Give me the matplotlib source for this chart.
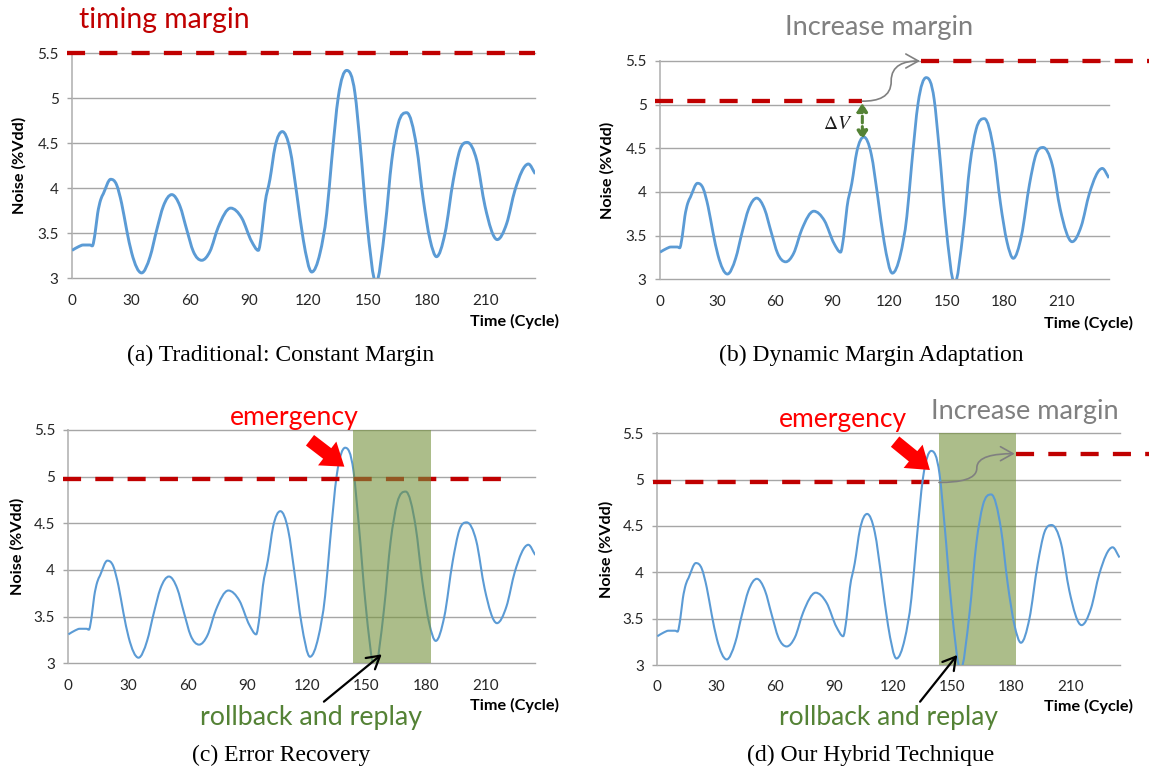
import numpy as np
import matplotlib
matplotlib.use("Agg")
import matplotlib.pyplot as plt
from matplotlib.path import Path
from matplotlib.patches import PathPatch, FancyArrowPatch

plt.rcParams["font.family"] = ["Lato", "DejaVu Sans"]
plt.rcParams["mathtext.fontset"] = "stix"

# ---- supply-noise trace (cycle, %Vdd) ----
cycles = [0, 3.2, 5.7, 9.1, 10.3, 11.7, 13.0, 14.5, 15.9, 19.6,
          22.6, 25.2, 27.7, 30.3, 35.3, 39.6, 43.0, 46.3, 50.6, 54.8,
          58.2, 61.5, 65.8, 70.0, 74.2, 80.5, 86.1, 91.1, 94.5, 96.2,
          97.9, 100.4, 103.0, 106.7, 110.6, 114.0, 117.3, 121.6, 125.8, 129.2,
          131.7, 135.1, 139.3, 143.5, 146.1, 149.5, 154.2, 158.8, 162.2, 165.5,
          169.8, 174.8, 178.2, 181.6, 184.9, 189.2, 193.4, 196.8, 200.5, 205.3,
          209.5, 215.7, 220.5, 224.7, 231.5, 235.0]
noise = [3.31, 3.35, 3.37, 3.37, 3.36, 3.50, 3.72, 3.87, 3.94, 4.10,
         4.04, 3.83, 3.54, 3.28, 3.06, 3.24, 3.54, 3.80, 3.93, 3.80,
         3.54, 3.30, 3.20, 3.30, 3.57, 3.78, 3.67, 3.41, 3.31, 3.50,
         3.83, 4.10, 4.46, 4.63, 4.43, 3.94, 3.43, 3.07, 3.28, 3.72,
         4.31, 5.02, 5.31, 5.06, 4.50, 3.65, 2.95, 3.57, 4.31, 4.72,
         4.84, 4.46, 3.87, 3.43, 3.24, 3.50, 4.09, 4.43, 4.51, 4.31,
         3.80, 3.43, 3.61, 3.98, 4.27, 4.16]

x_ticks = [0, 30, 60, 90, 120, 150, 180, 210]
y_ticks = [3, 3.5, 4, 4.5, 5, 5.5]
y_tick_labels = ["3", "3.5", "4", "4.5", "5", "5.5"]

# ---- margin levels (%Vdd) and switching cycles ----
margin_constant = 5.5
margin_dyn_low, margin_dyn_high = 5.04, 5.5
dyn_switch_start, dyn_switch_end = 105.9, 136.6
margin_recovery = 4.97
recovery_window = (143.4, 182.3)
recovery_margin_end = 221.0
margin_hyb_low, margin_hyb_high = 4.97, 5.28
hybrid_window = (143.2, 182.2)
dv_cycle, dv_top, dv_bottom = 105.9, 5.02, 4.60

W, H = 1149, 771
fig = plt.figure(figsize=(W / 100, H / 100), dpi=100)

BLUE = "#5B9BD5"
DARK_RED = "#C00000"
RED = "#FF0000"
GREY = "#808080"
GREEN_TXT = "#548235"
SHADE = "#76923C"
TICK_COLOR = "#262626"


def fpx(x, y):
    """Figure-pixel position (from top-left) -> figure fraction."""
    return x / W, 1 - y / H


def smooth_path(x, y):
    """Piecewise cubic Hermite curve through the samples, as Bezier segments."""
    x = np.asarray(x, float)
    y = np.asarray(y, float)
    n = len(x)
    h = np.diff(x)
    d = np.diff(y) / h
    m = np.zeros(n)
    m[0], m[-1] = d[0], d[-1]
    for i in range(1, n - 1):
        if d[i - 1] * d[i] <= 0:
            m[i] = 0.0
        else:
            m[i] = (h[i - 1] * d[i] + h[i] * d[i - 1]) / (h[i - 1] + h[i])
    verts = [(x[0], y[0])]
    codes = [Path.MOVETO]
    for i in range(n - 1):
        verts += [(x[i] + h[i] / 3, y[i] + m[i] * h[i] / 3),
                  (x[i + 1] - h[i] / 3, y[i + 1] - m[i + 1] * h[i] / 3),
                  (x[i + 1], y[i + 1])]
        codes += [Path.CURVE4] * 3
    return Path(verts, codes)


def s_curve(x0, y0, x1, y1):
    xm, ym = (x0 + x1) / 2, (y0 + y1) / 2
    verts = [(x0, y0),
             (x0 + 0.55 * (xm - x0), y0), (xm, y0 + 0.1 * (y1 - y0)), (xm, ym),
             (xm, y1 - 0.1 * (y1 - y0)), (xm + 0.45 * (x1 - xm), y1), (x1, y1)]
    codes = [Path.MOVETO] + [Path.CURVE4] * 6
    return Path(verts, codes)


def make_panel(left, top, right, bottom, wave_lw, wave_z=2):
    ax = fig.add_axes([left / W, 1 - bottom / H, (right - left) / W, (bottom - top) / H])
    ax.set_xlim(0, 235)
    ax.set_ylim(3, 5.5)
    ax.set_xticks(x_ticks)
    ax.set_yticks(y_ticks)
    ax.set_yticklabels(y_tick_labels)
    for s in ["top", "right", "bottom"]:
        ax.spines[s].set_visible(False)
    ax.spines["left"].set_color("#BFBFBF")
    ax.spines["left"].set_linewidth(1.4)
    ax.spines["left"].set_zorder(1)
    for yv in y_ticks:
        ax.axhline(yv, color="#A6A6A6", lw=1.0, zorder=0.5, clip_on=False)
    ax.tick_params(axis="y", length=3.6, width=1.0, color="#A6A6A6", pad=6,
                   labelsize=11, labelcolor=TICK_COLOR)
    ax.tick_params(axis="x", length=0, pad=11, labelsize=11, labelcolor=TICK_COLOR)
    wave = PathPatch(smooth_path(cycles, noise), fill=False, ec=BLUE, lw=wave_lw,
                     zorder=wave_z, joinstyle="round", capstyle="butt")
    ax.add_patch(wave)
    return ax


def margin_line(ax, x0, x1, y):
    ax.plot([x0, x1], [y, y], color=DARK_RED, lw=3.1, dashes=(4.2, 3.3),
            dash_capstyle="butt", clip_on=False, zorder=2.5)


def grey_arrow(ax, x0, y0, x1, y1):
    arr = FancyArrowPatch(path=s_curve(x0, y0, x1, y1),
                          arrowstyle="->,head_length=0.5,head_width=0.28",
                          mutation_scale=18, color=GREY, lw=1.2, zorder=6)
    arr.set_clip_on(False)
    ax.add_patch(arr)


def emergency_arrow(ax, tail, tip):
    ax.annotate("", xy=tip, xytext=tail, annotation_clip=False,
                arrowprops=dict(arrowstyle="simple,head_width=1.8,head_length=1.3,tail_width=0.8",
                                fc=RED, ec="none", shrinkA=0, shrinkB=0,
                                mutation_scale=12), zorder=6)


def replay_arrow(ax, tail, tip):
    ax.annotate("", xy=tip, xytext=tail, annotation_clip=False,
                arrowprops=dict(arrowstyle="->,head_length=0.6,head_width=0.35",
                                color="black", lw=1.6, shrinkA=0, shrinkB=0,
                                mutation_scale=15), zorder=6)


fit = []  # (text, target width in px, rotated)


def label_text(x, y, s, color, width, **kw):
    t = fig.text(*fpx(x, y), s, color=color, fontsize=20, va="baseline", ha="left", **kw)
    fit.append((t, width, False))
    return t


def axis_titles(ylab_xy, xlab_xy):
    t1 = fig.text(*fpx(*ylab_xy), "Noise (%Vdd)", rotation=90, fontsize=11,
                  fontweight="bold", ha="center", va="center", color="black")
    t2 = fig.text(*fpx(*xlab_xy), "Time (Cycle)", fontsize=11, fontweight="bold",
                  ha="right", va="center", color="black")
    fit.append((t1, 98, True))
    fit.append((t2, 89, False))


def caption(x, y, s):
    fig.text(*fpx(x, y), s, family="Liberation Serif", fontsize=17,
             ha="center", va="baseline", color="black")


# ---- (a) constant margin ----
ax_a = make_panel(72, 53.3, 535.3, 278.3, 2.1)
margin_line(ax_a, -2.7, 235, margin_constant)
label_text(79, 28, "timing margin", DARK_RED, 171)
axis_titles((19, 165.8), (559, 321.7))
caption(281, 361, "(a) Traditional: Constant Margin")

# ---- (b) dynamic margin adaptation ----
ax_b = make_panel(660, 61, 1109, 279.3, 2.0)
margin_line(ax_b, -2.7, dyn_switch_start, margin_dyn_low)
margin_line(ax_b, dyn_switch_end, 256, margin_dyn_high)
grey_arrow(ax_b, dyn_switch_start, margin_dyn_low, dyn_switch_end - 0.5, margin_dyn_high)
ax_b.annotate("", xy=(dv_cycle, dv_bottom), xytext=(dv_cycle, dv_top),
              arrowprops=dict(arrowstyle="<|-|>,head_length=0.35,head_width=0.22",
                              color=GREEN_TXT, lw=2.2, ls=(0, (2.2, 1.2)),
                              mutation_scale=14, shrinkA=0, shrinkB=0), zorder=6)
ax_b.text(93.1, 4.78, r"$\Delta V$", fontsize=14, ha="center", va="center", color="#1a1a1a")
label_text(785, 35, "Increase margin", GREY, 189)
axis_titles((607.5, 170.8), (1132.6, 323))
caption(871, 361, "(b) Dynamic Margin Adaptation")

# ---- (c) error recovery ----
ax_c = make_panel(68.4, 430, 535.3, 663.3, 1.5)
margin_line(ax_c, -2.7, recovery_margin_end, margin_recovery)
ax_c.axvspan(*recovery_window, color=SHADE, alpha=0.6, lw=0, zorder=3)
emergency_arrow(ax_c, (121.6, 5.39), (138.9, 5.107))
replay_arrow(ax_c, (128.6, 2.589), (157.7, 3.096))
label_text(230, 425, "emergency", RED, 129)
label_text(199.8, 725, "rollback and replay", GREEN_TXT, 222)
axis_titles((17.6, 546.7), (558.6, 705))
caption(281, 761, "(c) Error Recovery")

# ---- (d) hybrid technique ----
ax_d = make_panel(657.3, 433.3, 1119.5, 665, 1.5, wave_z=4)
margin_line(ax_d, -2.4, hybrid_window[0], margin_hyb_low)
margin_line(ax_d, hybrid_window[1], 250, margin_hyb_high)
ax_d.axvspan(*hybrid_window, color=SHADE, alpha=0.6, lw=0, zorder=3)
grey_arrow(ax_d, hybrid_window[0], margin_hyb_low, hybrid_window[1] - 0.5, margin_hyb_high)
emergency_arrow(ax_d, (120.9, 5.41), (138.6, 5.104))
replay_arrow(ax_d, (133.6, 2.604), (152.5, 3.108))
label_text(778.8, 426.7, "emergency", RED, 128)
label_text(931, 419.3, "Increase margin", GREY, 188)
label_text(778.8, 725, "rollback and replay", GREEN_TXT, 219)
axis_titles((606.3, 549), (1132.6, 706.7))
caption(871, 761, "(d) Our Hybrid Technique")

# scale free-standing labels to their intended widths
fig.canvas.draw()
renderer = fig.canvas.get_renderer()
for t, width, rotated in fit:
    bb = t.get_window_extent(renderer)
    cur = bb.height if rotated else bb.width
    t.set_fontsize(t.get_fontsize() * width / cur)

fig.savefig("out.png", dpi=100)
